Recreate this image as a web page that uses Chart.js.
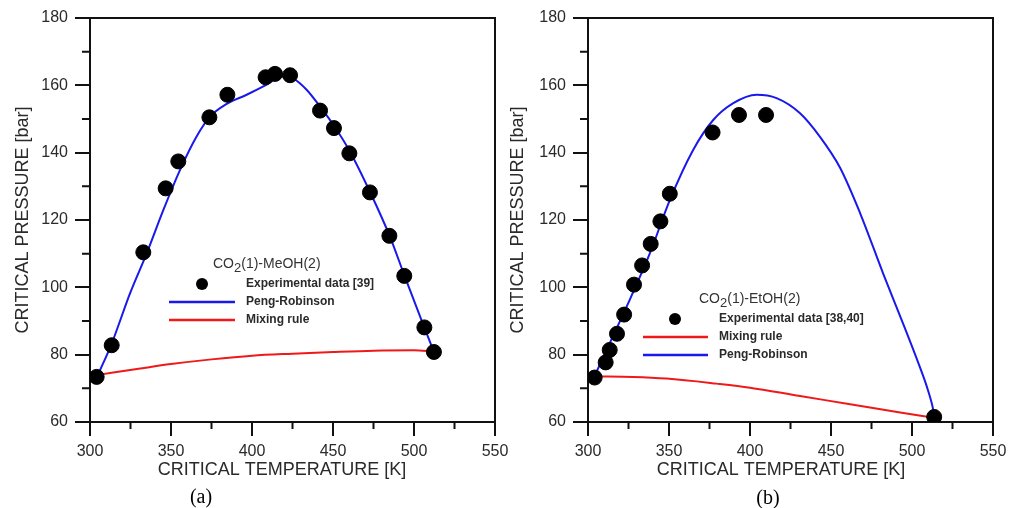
<!DOCTYPE html>
<html>
<head>
<meta charset="utf-8">
<script src="https://cdn.jsdelivr.net/npm/chart.js@4.4.1/dist/chart.umd.min.js"></script>
<style>
  body { margin: 0; background: #fff; }
  #wrap { position: relative; width: 1009px; height: 508px; overflow: hidden; }
  .panel { position: absolute; top: 0; height: 508px; }
  #panelA { left: 0; width: 508px; }
  #panelB { left: 500px; width: 509px; }
</style>
</head>
<body>
<div id="wrap">
  <div class="panel" id="panelA"><canvas id="chartA"></canvas></div>
  <div class="panel" id="panelB"><canvas id="chartB"></canvas></div>
</div>
<script>
// axis ticks
const tempTicks = [300, 350, 400, 450, 500, 550];
const pressTicks = [60, 80, 100, 120, 140, 160, 180];

// (a) CO2(1)-MeOH(2)
const expTempA = [304.1, 313.4, 332.9, 346.7, 354.5, 373.7, 384.8, 408.4, 414.2, 423.5, 442.0, 450.6, 460.1, 472.8, 484.8, 494.0, 506.4, 512.3];
const expPressA = [73.4, 82.8, 110.4, 129.4, 137.4, 150.5, 157.2, 162.4, 163.4, 163.0, 152.5, 147.3, 139.8, 128.2, 115.3, 103.4, 88.1, 80.8];
const prTempA = [305.1, 313.4, 324.7, 335.0, 345.3, 355.6, 365.8, 374.1, 384.4, 396.7, 409.1, 418.3, 425.5, 433.7, 442.0, 450.2, 460.5, 472.8, 485.2, 494.4, 505.8, 511.9];
const prPressA = [74.2, 83.3, 98.2, 110.1, 123.0, 134.9, 144.8, 150.7, 154.5, 157.2, 160.2, 162.6, 162.0, 158.7, 153.7, 148.3, 140.3, 128.4, 115.0, 103.1, 88.8, 81.3];
const mixTempA = [305, 330, 350, 375, 400, 425, 450, 475, 500, 512];
const mixPressA = [74.0, 75.8, 77.2, 78.6, 79.7, 80.3, 80.8, 81.2, 81.3, 80.9];

// (b) CO2(1)-EtOH(2)
const expTempB = [304.1, 310.9, 313.4, 317.9, 322.3, 328.4, 333.4, 338.7, 344.7, 350.5, 376.9, 393.2, 409.9, 513.7];
const expPressB = [73.2, 77.7, 81.4, 86.2, 91.9, 100.8, 106.5, 112.9, 119.6, 127.8, 146.0, 151.2, 151.2, 61.5];
const prTempB = [304.1, 311.3, 323.7, 338.1, 350.5, 364.9, 377.3, 389.7, 404.1, 416.4, 430.9, 443.2, 455.6, 468.0, 482.2, 495.0, 504.0, 509.5, 512.5, 513.7];
const prPressB = [73.7, 81.2, 94.1, 110.0, 125.9, 140.8, 149.7, 154.7, 157.2, 156.2, 151.7, 144.7, 135.5, 122.0, 104.1, 88.6, 77.4, 70.0, 65.0, 62.2];
const mixTempB = [304.1, 327.8, 348.4, 379.3, 400.0, 430.9, 461.8, 492.7, 513.3];
const mixPressB = [73.6, 73.4, 72.9, 71.4, 70.2, 67.7, 65.3, 62.8, 61.3];

const FONT = '"Liberation Sans", Arial, sans-serif';
const TEXT = '#2a2a2a';
const AXIS = '#111';
const BLUE = 'rgb(25,25,235)';
const RED = 'rgb(240,25,25)';

function pts(xs, ys) {
    return xs.map((x, i) => ({ x: x, y: ys[i] }));
}

// frame, minor ticks, x title, legend box and caption
const decorPlugin = {
    id: 'decor',
    afterDraw(chart, args, opts) {
        const ctx = chart.ctx;
        const a = chart.chartArea;
        const xs = chart.scales.x;
        const ys = chart.scales.y;
        ctx.save();
        ctx.strokeStyle = AXIS;
        ctx.lineWidth = 2;
        ctx.beginPath();
        ctx.moveTo(a.left, a.top);
        ctx.lineTo(a.right, a.top);
        ctx.lineTo(a.right, a.bottom);
        ctx.stroke();

        // minor ticks halfway between major ones
        ctx.beginPath();
        for (let i = 0; i < tempTicks.length - 1; i++) {
            const px = xs.getPixelForValue((tempTicks[i] + tempTicks[i + 1]) / 2);
            ctx.moveTo(px, a.bottom);
            ctx.lineTo(px, a.bottom + 7);
        }
        for (let i = 0; i < pressTicks.length - 1; i++) {
            const py = ys.getPixelForValue((pressTicks[i] + pressTicks[i + 1]) / 2);
            ctx.moveTo(a.left, py);
            ctx.lineTo(a.left - 8, py);
        }
        ctx.stroke();

        // x axis title
        ctx.fillStyle = TEXT;
        ctx.font = '18px ' + FONT;
        ctx.textAlign = 'center';
        ctx.textBaseline = 'middle';
        ctx.fillText('CRITICAL TEMPERATURE [K]', opts.xTitle[0], opts.xTitle[1]);

        // legend title with subscript
        const t = opts.legendTitle;
        ctx.textAlign = 'left';
        ctx.textBaseline = 'alphabetic';
        ctx.font = '14px ' + FONT;
        ctx.fillStyle = '#333';
        let x = t.x;
        ctx.fillText('CO', x, t.y);
        x += ctx.measureText('CO').width;
        ctx.font = '13px ' + FONT;
        ctx.fillText('2', x, t.y + 4);
        x += ctx.measureText('2').width;
        ctx.font = '14px ' + FONT;
        ctx.fillText(t.rest, x, t.y);

        // legend entries
        ctx.font = 'bold 12px ' + FONT;
        ctx.textBaseline = 'middle';
        opts.entries.forEach(e => {
            const ds = chart.data.datasets[e.ds];
            if (!ds.showLine) {
                ctx.fillStyle = ds.backgroundColor;
                ctx.beginPath();
                ctx.arc(e.mx, e.y, 6, 0, Math.PI * 2);
                ctx.fill();
            } else {
                ctx.strokeStyle = ds.borderColor;
                ctx.lineWidth = 2.5;
                ctx.beginPath();
                ctx.moveTo(e.lx1, e.y);
                ctx.lineTo(e.lx2, e.y);
                ctx.stroke();
            }
            ctx.fillStyle = TEXT;
            ctx.fillText(ds.label, e.tx, e.y);
        });

        // caption
        ctx.fillStyle = '#000';
        ctx.font = '20px "Liberation Serif", "Times New Roman", serif';
        ctx.textAlign = 'center';
        ctx.textBaseline = 'alphabetic';
        ctx.fillText(opts.caption, opts.capPos[0], opts.capPos[1]);
        ctx.restore();
    }
};

function makeChart(id, cfg) {
    const datasets = [
        {
            label: cfg.expLabel,
            data: pts(cfg.expT, cfg.expP),
            showLine: false,
            backgroundColor: '#000',
            borderColor: '#000',
            pointRadius: 7.5,
            pointHoverRadius: 7.5,
            order: 0
        },
        {
            label: 'Peng-Robinson',
            data: pts(cfg.prT, cfg.prP),
            showLine: true,
            borderColor: BLUE,
            backgroundColor: BLUE,
            borderWidth: 2,
            pointRadius: 0,
            cubicInterpolationMode: 'monotone',
            fill: false,
            order: 1
        },
        {
            label: 'Mixing rule',
            data: pts(cfg.mixT, cfg.mixP),
            showLine: true,
            borderColor: RED,
            backgroundColor: RED,
            borderWidth: 2,
            pointRadius: 0,
            cubicInterpolationMode: 'monotone',
            fill: false,
            order: 2
        }
    ];
    return new Chart(document.getElementById(id), {
        type: 'scatter',
        data: { datasets: datasets },
        options: {
            responsive: true,
            maintainAspectRatio: false,
            animation: false,
            events: [],
            layout: { padding: { top: 18, right: cfg.padRight, bottom: 0, left: 0 } },
            plugins: {
                legend: { display: false },
                tooltip: { enabled: false },
                decor: cfg.decor
            },
            scales: {
                x: {
                    type: 'linear',
                    min: 300,
                    max: 550,
                    afterBuildTicks: s => { s.ticks = tempTicks.map(v => ({ value: v })); },
                    afterFit: s => { s.height = 86; s.paddingLeft = 0; s.paddingRight = 0; },
                    ticks: { color: TEXT, font: { family: FONT, size: 16 }, padding: 6, maxRotation: 0, autoSkip: false },
                    grid: { drawOnChartArea: false, color: AXIS, lineWidth: 2, tickLength: 14 },
                    border: { color: AXIS, width: 2 }
                },
                y: {
                    type: 'linear',
                    min: 60,
                    max: 180,
                    afterBuildTicks: s => { s.ticks = pressTicks.map(v => ({ value: v })); },
                    afterFit: s => { s.width = cfg.yWidth; s.paddingTop = 0; s.paddingBottom = 0; },
                    ticks: { color: TEXT, font: { family: FONT, size: 16 }, padding: 7, autoSkip: false },
                    grid: { drawOnChartArea: false, color: AXIS, lineWidth: 2, tickLength: 15 },
                    border: { color: AXIS, width: 2 },
                    title: {
                        display: true,
                        text: 'CRITICAL PRESSURE [bar]',
                        color: TEXT,
                        font: { family: FONT, size: 18 },
                        padding: { top: cfg.yTitlePad, bottom: 0 }
                    }
                }
            }
        },
        plugins: [decorPlugin]
    });
}

makeChart('chartA', {
    expT: expTempA, expP: expPressA, prT: prTempA, prP: prPressA, mixT: mixTempA, mixP: mixPressA,
    expLabel: 'Experimental data [39]',
    padRight: 13,
    yWidth: 90,
    yTitlePad: 12,
    decor: {
        xTitle: [282, 470],
        legendTitle: { x: 213, y: 268, rest: '(1)-MeOH(2)' },
        entries: [
            { ds: 0, mx: 202, tx: 246, y: 284 },
            { ds: 1, lx1: 169, lx2: 235, tx: 246, y: 302 },
            { ds: 2, lx1: 169, lx2: 235, tx: 246, y: 320 }
        ],
        caption: '(a)',
        capPos: [201, 503]
    }
});

makeChart('chartB', {
    expT: expTempB, expP: expPressB, prT: prTempB, prP: prPressB, mixT: mixTempB, mixP: mixPressB,
    expLabel: 'Experimental data [38,40]',
    padRight: 16,
    yWidth: 88,
    yTitlePad: 7,
    decor: {
        xTitle: [281, 470],
        legendTitle: { x: 199, y: 303, rest: '(1)-EtOH(2)' },
        entries: [
            { ds: 0, mx: 175, tx: 219, y: 319 },
            { ds: 2, lx1: 143, lx2: 208, tx: 219, y: 337 },
            { ds: 1, lx1: 143, lx2: 208, tx: 219, y: 355 }
        ],
        caption: '(b)',
        capPos: [268, 504]
    }
});
</script>
</body>
</html>
